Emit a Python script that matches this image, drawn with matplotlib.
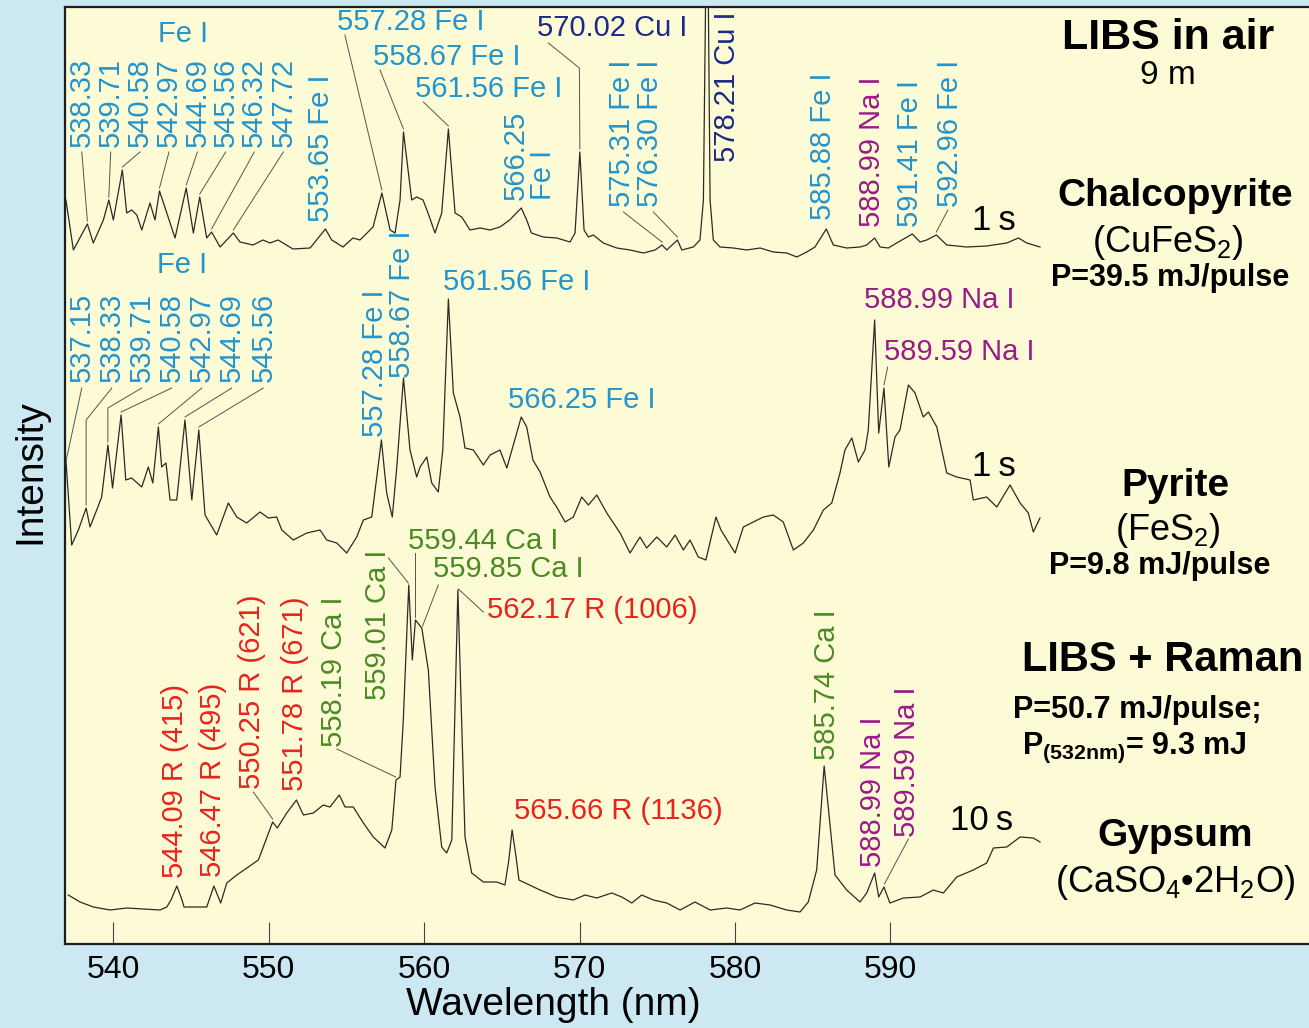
import matplotlib.pyplot as plt
import numpy as np

plt.rcParams['font.family'] = ['Liberation Sans', 'DejaVu Sans']
plt.rcParams['mathtext.fontset'] = 'custom'
plt.rcParams['mathtext.rm'] = 'Liberation Sans'
plt.rcParams['mathtext.bf'] = 'Liberation Sans:bold'

# Chalcopyrite (CuFeS2), LIBS in air, 1 s
chalco_wl = [536.95, 537.43, 538.33, 538.71, 539.36, 539.71, 540.0, 540.58, 540.86, 541.18,
             541.51, 541.83, 542.36, 542.68, 542.97, 543.44, 543.97, 544.69, 545.15, 545.56,
             546.01, 546.32, 546.87, 547.72, 548.15, 548.99, 549.63, 550.08, 550.6, 551.56,
             552.66, 553.65, 554.05, 554.78, 555.42, 555.87, 556.71, 557.28, 557.81, 558.13,
             558.45, 558.67, 559.2, 559.52, 559.93, 560.25, 560.7, 561.13, 561.56, 561.99,
             562.42, 562.95, 563.6, 564.24, 564.88, 565.5, 566.25, 566.6, 566.9, 567.67,
             568.53, 569.39, 569.71, 570.02, 570.29, 570.57, 570.89, 571.53, 572.39, 573.25,
             574.11, 574.86, 575.31, 575.61, 576.3, 576.58, 577.32, 577.75, 577.97, 578.21,
             578.4, 578.61, 579.04, 579.9, 580.76, 581.62, 582.47, 583.33, 583.98, 584.62,
             585.15, 585.88, 586.33, 587.19, 588.05, 588.48, 588.99, 589.34, 589.87, 590.41,
             591.41, 591.91, 592.34, 592.96, 593.63, 594.92, 596.2, 597.49, 598.24, 598.78,
             599.63]
chalco_int = [60, 10, 36, 17, 40, 60, 40, 90, 47, 50,
              45, 30, 57, 40, 69, 47, 22, 72, 27, 63,
              22, 28, 13, 27, 18, 15, 20, 17, 20, 11,
              12, 31, 20, 13, 22, 20, 33, 67, 30, 27,
              60, 128, 60, 63, 60, 47, 27, 47, 131, 47,
              43, 30, 32, 30, 33, 40, 52, 40, 27, 23,
              22, 18, 27, 108, 30, 23, 25, 17, 12, 10,
              7, 10, 15, 10, 20, 10, 13, 20, 60, 400,
              60, 20, 13, 12, 10, 12, 8, 7, 3, 8,
              13, 31, 15, 12, 13, 15, 22, 13, 12, 17,
              26, 18, 20, 25, 15, 13, 14, 17, 22, 17,
              13]

# Pyrite (FeS2), LIBS in air, 1 s
pyrite_wl = [536.95, 537.32, 537.75, 538.25, 538.5, 538.93, 539.25, 539.65, 539.95, 540.5,
             540.8, 541.18, 541.83, 542.25, 542.54, 542.9, 543.11, 543.39, 543.65, 544.08,
             544.61, 545.05, 545.5, 545.9, 546.65, 547.4, 547.94, 548.58, 549.44, 549.97,
             550.51, 550.84, 551.58, 552.45, 553.3, 553.73, 554.38, 555.02, 555.66, 556.09,
             556.63, 557.25, 557.59, 557.95, 558.24, 558.67, 559.09, 559.52, 559.74, 560.17,
             560.49, 560.91, 561.2, 561.56, 561.88, 562.31, 562.63, 563.17, 563.81, 564.24,
             564.88, 565.32, 566.25, 566.6, 567.0, 567.46, 568.1, 568.53, 569.07, 569.6,
             570.14, 570.57, 571.11, 571.75, 572.61, 573.25, 573.89, 574.32, 574.97, 575.61,
             576.15, 576.68, 577.11, 577.64, 578.13, 578.78, 579.1, 580.01, 580.54, 581.18,
             581.83, 582.47, 583.11, 583.76, 584.4, 585.05, 585.69, 586.23, 586.76, 587.08,
             587.52, 587.94, 588.37, 588.58, 588.99, 589.25, 589.59, 589.9, 590.3, 590.62,
             591.16, 591.59, 592.12, 592.45, 592.99, 593.63, 594.27, 595.13, 595.34, 596.2,
             596.85, 597.7, 598.35, 598.88, 599.2, 599.63]
pyrite_int = [100, 15, 30, 52, 33, 50, 63, 115, 72, 145,
              80, 82, 73, 93, 77, 133, 93, 97, 60, 60,
              140, 60, 130, 45, 25, 57, 43, 37, 48, 42,
              43, 30, 20, 27, 30, 20, 17, 7, 23, 40,
              43, 120, 67, 43, 93, 182, 110, 83, 93, 103,
              77, 68, 110, 261, 167, 143, 112, 110, 95, 105,
              110, 92, 143, 133, 100, 88, 63, 53, 38, 43,
              63, 55, 65, 47, 27, 7, 23, 12, 23, 13,
              25, 10, 20, 3, 0, 43, 30, 7, 33, 38,
              43, 45, 38, 10, 17, 30, 50, 57, 87, 110,
              122, 98, 110, 130, 240, 127, 172, 93, 123, 130,
              175, 167, 143, 148, 133, 87, 83, 80, 60, 63,
              53, 75, 57, 47, 28, 42]

# Gypsum (CaSO4.2H2O), LIBS + Raman, 10 s
gypsum_wl = [537.1, 537.86, 538.71, 539.79, 540.86, 541.93, 543.01, 543.44, 543.71, 544.09,
             544.42, 544.55, 545.15, 546.01, 546.47, 546.91, 547.3, 547.94, 548.69, 549.33,
             549.65, 550.25, 550.55, 551.16, 551.78, 552.23, 552.87, 553.51, 553.94, 554.54,
             554.91, 555.44, 556.09, 556.73, 557.48, 557.92, 558.19, 558.45, 558.66, 559.01,
             559.24, 559.44, 559.85, 560.27, 560.7, 561.13, 561.45, 561.78, 562.17, 562.63,
             563.06, 563.81, 564.67, 565.2, 565.45, 565.66, 565.9, 566.1, 567.46, 568.53,
             569.6, 570.35, 571.11, 572.07, 572.72, 573.36, 574.0, 574.75, 575.61, 576.47,
             577.43, 578.4, 579.47, 580.33, 581.29, 582.26, 583.33, 584.19, 584.72, 585.26,
             585.74, 586.44, 587.19, 588.05, 588.48, 588.99, 589.25, 589.59, 589.97, 590.84,
             591.91, 592.77, 593.41, 594.27, 595.34, 596.2, 596.63, 597.49, 598.35, 599.2,
             599.63]
gypsum_int = [20, 13, 8, 5, 7, 6, 5, 8, 15, 29,
              15, 8, 8, 8, 29, 12, 32, 40, 48, 55,
              68, 93, 87, 102, 115, 100, 102, 110, 108, 120,
              108, 108, 92, 78, 67, 85, 135, 138, 195, 330,
              255, 295, 287, 245, 128, 68, 62, 75, 325, 78,
              42, 33, 33, 30, 55, 85, 60, 35, 25, 18,
              15, 20, 17, 22, 18, 12, 20, 15, 12, 5,
              13, 5, 7, 5, 12, 10, 5, 3, 13, 45,
              149, 40, 25, 13, 22, 42, 18, 28, 12, 17,
              18, 25, 22, 38, 45, 52, 67, 68, 78, 77,
              73]

x_ticks = [540, 550, 560, 570, 580, 590]

FE = '#2394cc'
CU = '#1c2a87'
NA = '#9a1a88'
RAMAN = '#e8231c'
CA = '#4b8a23'
LEAD = '#55554c'

# vertical stacking of the three spectra
off_chalco, off_pyrite, off_gypsum = 684, 384, 29

fig = plt.figure(figsize=(13.09, 10.28), dpi=100, facecolor='#cce8f2')
ax = fig.add_axes([65 / 1309, 84 / 1028, 1244 / 1309, 937 / 1028], facecolor='#fdfbd6')

for wl, inten, off in [(chalco_wl, chalco_int, off_chalco),
                       (pyrite_wl, pyrite_int, off_pyrite),
                       (gypsum_wl, gypsum_int, off_gypsum)]:
    ax.plot(wl, np.array(inten) + off, color='#2a2a26', lw=0.9, zorder=3)

ax.set_xlim(536.89, 616.94)
ax.set_ylim(0, 937)
ax.set_xticks(x_ticks)
ax.set_yticks([])
ax.tick_params(axis='x', direction='in', length=16, width=0.8, color='#444',
               pad=8, labelsize=23)
for side in ['left', 'bottom', 'top']:
    ax.spines[side].set_linewidth(1.6)
    ax.spines[side].set_color('#1e1e1e')
ax.spines['right'].set_visible(False)

fig.text(553 / 1309, 1 - 1005 / 1028, 'Wavelength (nm)', ha='center', va='center', fontsize=28)
fig.text(30 / 1309, 1 - 472 / 1028, 'Intensity', rotation=90, ha='center', va='center',
         fontsize=28)


def lead(points):
    xs, ys = zip(*points)
    ax.plot(xs, ys, color=LEAD, lw=0.7, zorder=2)


def vtag(x, y, s, color, leader=None, size=21, **kw):
    ax.text(x, y, s, color=color, rotation=90, ha='center', va='bottom', fontsize=size, **kw)
    if leader:
        lead(leader)


def htag(x, y, s, color, leader=None, size=21, **kw):
    ax.text(x, y, s, color=color, ha='left', va='center', fontsize=size, **kw)
    if leader:
        lead(leader)


# --- Chalcopyrite labels ---
ax.text(544.50, 910, 'Fe I', color=FE, ha='center', va='center', fontsize=21)
chalco_fe = [('538.33', 537.97, 538.33), ('539.71', 539.83, 539.71), ('540.58', 541.72, 540.58),
             ('542.97', 543.58, 542.97), ('544.69', 545.41, 544.69), ('545.56', 547.23, 545.56),
             ('546.32', 549.07, 546.32), ('547.72', 550.94, 547.72)]
for s, xt, xp in chalco_fe:
    yp = off_chalco + np.interp(xp, chalco_wl, chalco_int) + 3
    vtag(xt, 797, s, FE, leader=[(xt, 792), (xp, yp)])

vtag(553.37, 722, '553.65 Fe I', FE)
htag(554.39, 922, '557.28 Fe I', FE, leader=[(554.90, 909), (557.28, 754)])
htag(556.71, 887, '558.67 Fe I', FE, leader=[(557.16, 874), (558.67, 815)])
htag(559.41, 855, '561.56 Fe I', FE, leader=[(559.95, 842), (561.56, 818)])
ax.text(566.78, 744, '566.25\nFe I', color=FE, rotation=90, ha='center', va='bottom',
        multialignment='left', linespacing=0.95, fontsize=21)
htag(567.25, 916, '570.02 Cu I', CU, leader=[(567.99, 901), (569.99, 876), (570.02, 795)])
vtag(572.72, 737, '575.31 Fe I', FE, leader=[(572.82, 732), (575.31, 702)])
vtag(574.54, 737, '576.30 Fe I', FE, leader=[(574.75, 732), (576.30, 707)])
vtag(579.47, 782, '578.21 Cu I', CU)
vtag(585.69, 724, '585.88 Fe I', FE)
vtag(588.80, 717, '588.99 Na I', NA)
vtag(591.26, 717, '591.41 Fe I', FE)
vtag(593.84, 737, '592.96 Fe I', FE, leader=[(593.70, 734), (592.96, 712)])
htag(595.26, 724, '1\u2009s', 'black', size=25)

# --- Pyrite labels ---
ax.text(544.40, 679, 'Fe I', color=FE, ha='center', va='center', fontsize=21)
vtag(537.97, 562, '537.15', FE, leader=[(537.97, 556), (536.97, 484)])
vtag(539.90, 562, '538.33', FE, leader=[(539.90, 556), (538.25, 524), (538.25, 439)])
vtag(541.83, 562, '539.71', FE, leader=[(541.83, 556), (539.65, 536), (539.65, 502)])
vtag(543.76, 562, '540.58', FE, leader=[(543.76, 556), (540.50, 532)])
vtag(545.69, 562, '542.97', FE, leader=[(545.69, 556), (542.90, 520)])
vtag(547.62, 562, '544.69', FE, leader=[(547.62, 556), (544.61, 527)])
vtag(549.65, 562, '545.56', FE, leader=[(549.65, 556), (545.50, 517)])
vtag(556.84, 507, '557.28 Fe I', FE)
vtag(558.56, 566, '558.67 Fe I', FE)
htag(561.22, 662, '561.56 Fe I', FE)
htag(565.40, 544, '566.25 Fe I', FE)
htag(588.30, 644, '588.99 Na I', NA)
htag(589.59, 592, '589.59 Na I', NA, leader=[(589.83, 577), (589.59, 559)])
htag(595.26, 477, '1\u2009s', 'black', size=25)

# --- Gypsum labels ---
vtag(543.97, 66, '544.09 R (415)', RAMAN)
vtag(546.44, 67, '546.47 R (495)', RAMAN)
vtag(548.91, 155, '550.25 R (621)', RAMAN, leader=[(549.01, 152), (550.25, 125)])
vtag(551.69, 153, '551.78 R (671)', RAMAN)
vtag(554.20, 197, '558.19 Ca I', CA, leader=[(554.38, 195), (558.17, 167)])
vtag(557.05, 244, '559.01 Ca I', CA, leader=[(557.70, 386), (558.98, 361)])
htag(558.96, 403, '559.44 Ca I', CA, leader=[(559.44, 391), (559.44, 327)])
htag(560.57, 375, '559.85 Ca I', CA, leader=[(560.91, 359), (559.90, 318)])
htag(564.05, 334, '562.17 R (1006)', RAMAN, leader=[(563.81, 332), (562.20, 355)])
htag(565.78, 133, '565.66 R (1136)', RAMAN)
vtag(585.91, 184, '585.74 Ca I', CA)
vtag(588.91, 77, '588.99 Na I', NA)
vtag(591.06, 107, '589.59 Na I', NA, leader=[(591.16, 105), (589.62, 60)])
htag(593.84, 124, '10\u2009s', 'black', size=25)


# --- sample / conditions block on the right ---
def side(x, y, s, size, bold=False, ha='center'):
    ax.text(x, y, s, ha=ha, va='center', fontsize=size,
            fontweight='bold' if bold else 'normal', color='black')


side(607.87, 906, 'LIBS in air', 31, bold=True)
side(607.87, 869, '9 m', 24)
side(608.32, 748, 'Chalcopyrite', 28, bold=True)
side(607.87, 702, '(CuFeS$_2$)', 26)
side(607.98, 666, 'P=39.5 mJ/pulse', 22, bold=True)
side(608.32, 458, 'Pyrite', 28, bold=True)
side(607.87, 413, '(FeS$_2$)', 26)
side(607.34, 378, 'P=9.8 mJ/pulse', 22, bold=True)
side(598.45, 284, 'LIBS + Raman', 30, bold=True, ha='left')
side(597.90, 234, 'P=50.7 mJ/pulse;', 22, bold=True, ha='left')
side(598.48, 196, r'P$_{\mathbf{(532nm)}}$= 9.3 mJ', 22, bold=True, ha='left')
side(608.32, 108, 'Gypsum', 28, bold=True)
side(608.32, 61, '(CaSO$_4$\u20222H$_2$O)', 26)

fig.savefig('out.png', dpi=100, facecolor=fig.get_facecolor())
